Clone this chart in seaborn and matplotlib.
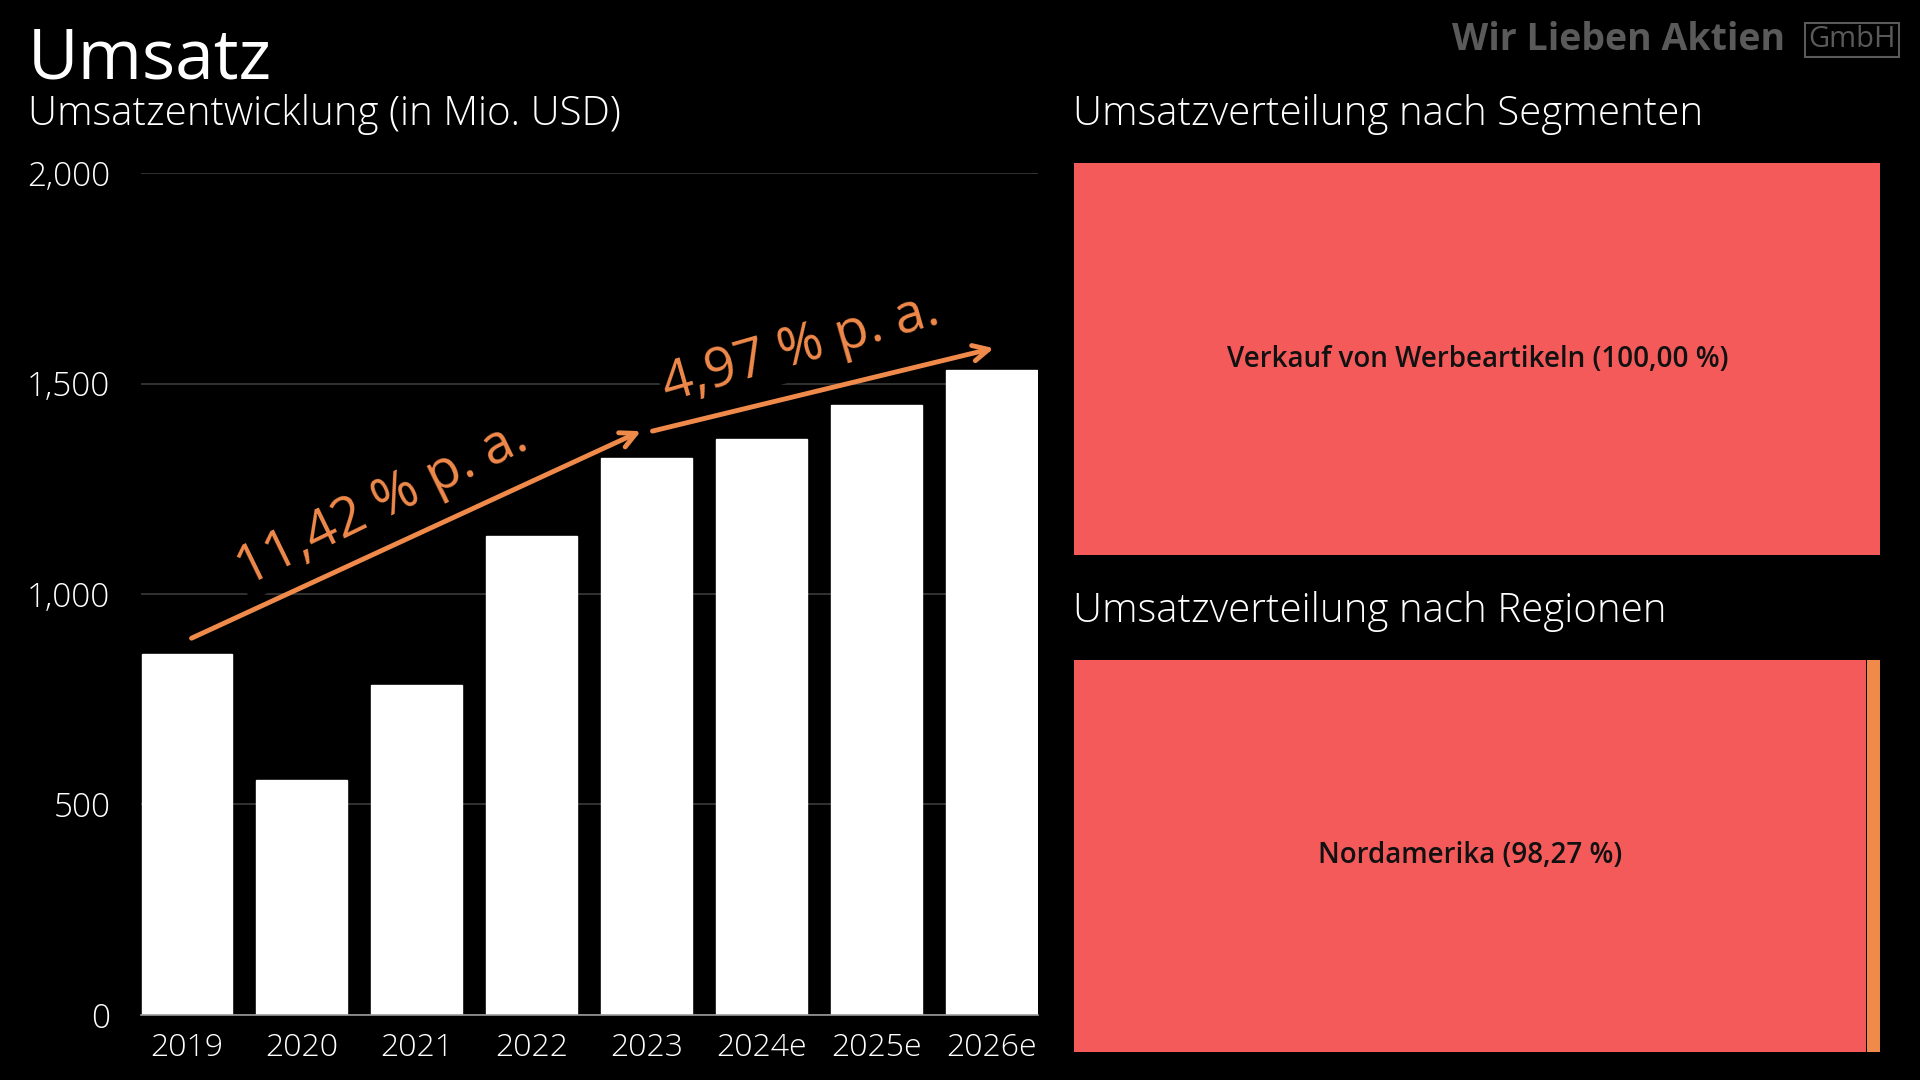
import matplotlib
matplotlib.use("Agg")
import matplotlib.pyplot as plt
import seaborn as sns
import pandas as pd

# data
years = ['2019', '2020', '2021', '2022', '2023', '2024e', '2025e', '2026e']
revenue = [857, 558, 785, 1137, 1323, 1369, 1448, 1532]
y_ticks = [0, 500, 1000, 1500, 2000]
y_tick_labels = ['0', '500', '1,000', '1,500', '2,000']

segments = ['Verkauf von Werbeartikeln']
segment_share = [100.00]
regions = ['Nordamerika', 'Sonstige']
region_share = [98.27, 1.73]

growth_labels = ['11,42 % p. a.', '4,97 % p. a.']

BG = 'black'
ORANGE = '#F08A4B'
RED = '#F45A5A'

sns.set_theme(style='dark')
plt.rcParams['font.family'] = ['Open Sans', 'DejaVu Sans']

fig = plt.figure(figsize=(19.2, 10.8), dpi=100, facecolor=BG)

# ---- revenue bars
ax = fig.add_axes([0.0734, 0.0602, 0.467, 0.7796])
ax.set_facecolor(BG)
df = pd.DataFrame({'year': years, 'revenue': revenue})
sns.barplot(data=df, x='year', y='revenue', color='white', saturation=1,
            width=0.79, ax=ax, zorder=3)
ax.set_ylim(0, 2000)
ax.set_xlim(-0.4, len(years) - 0.6)
ax.set_yticks(y_ticks)
ax.set_yticklabels(y_tick_labels, fontweight='light')
for lbl in ax.get_xticklabels():
    lbl.set_fontweight('light')
ax.yaxis.grid(True, color='#3a3a3a', lw=1.2, zorder=0)
ax.xaxis.grid(False)
ax.set_axisbelow(True)
for s in ['top', 'right', 'left']:
    ax.spines[s].set_visible(False)
ax.spines['bottom'].set_color('#9a9a9a')
ax.spines['bottom'].set_linewidth(1.2)
ax.spines['bottom'].set_zorder(4)
ax.tick_params(axis='y', colors='white', labelsize=24, length=0, pad=22)
ax.tick_params(axis='x', colors='white', labelsize=23, length=0, pad=12)
ax.set_xlabel('')
ax.set_ylabel('')

# growth arrows
ax.annotate('', xy=(3.95, 1387), xytext=(0.04, 895),
            arrowprops=dict(arrowstyle='->', color=ORANGE, lw=3.5,
                            mutation_scale=28, shrinkA=0, shrinkB=0), zorder=6)
ax.annotate('', xy=(7.02, 1584), xytext=(4.05, 1387),
            arrowprops=dict(arrowstyle='->', color=ORANGE, lw=3.5,
                            mutation_scale=28, shrinkA=0, shrinkB=0), zorder=6)
ax.text(1.70, 1215, growth_labels[0], color=ORANGE, fontsize=39,
        rotation=26, ha='center', va='center', rotation_mode='anchor', zorder=5,
        bbox=dict(facecolor=BG, edgecolor='none', pad=2))
ax.text(5.34, 1585, growth_labels[1], color=ORANGE, fontsize=39,
        rotation=16, ha='center', va='center', rotation_mode='anchor', zorder=5,
        bbox=dict(facecolor=BG, edgecolor='none', pad=2))


def share_panel(rect, names, shares, colors, label_count):
    a = fig.add_axes(rect)
    a.set_facecolor(BG)
    left = 0
    for i, (n, v) in enumerate(zip(names, shares)):
        a.barh(0, v - 0.12, left=left, height=1, color=colors[i], edgecolor='none')
        if i < label_count:
            a.text(left + v / 2, 0, f'{n} ({v:.2f} %)'.replace('.', ','),
                   ha='center', va='center', fontsize=20, fontweight='semibold',
                   color='#111111')
        left += v
    a.set_xlim(0, 100)
    a.set_ylim(-0.5, 0.5)
    a.axis('off')
    return a


share_panel([0.5594, 0.486, 0.4203, 0.363], segments, segment_share, [RED], 1)
share_panel([0.5594, 0.026, 0.4203, 0.363], regions, region_share, [RED, ORANGE], 1)

# titles
fig.text(0.0146, 0.944, 'Umsatz', color='white', fontsize=50, fontweight='normal',
         ha='left', va='center')
fig.text(0.0146, 0.894, 'Umsatzentwicklung (in Mio. USD)', color='white',
         fontsize=29, fontweight='light', ha='left', va='center')
fig.text(0.5589, 0.894, 'Umsatzverteilung nach Segmenten', color='white',
         fontsize=29, fontweight='light', ha='left', va='center')
fig.text(0.5589, 0.434, 'Umsatzverteilung nach Regionen', color='white',
         fontsize=29, fontweight='light', ha='left', va='center')

# logo
fig.text(0.930, 0.963, 'Wir Lieben Aktien', color='#5a5a5a', fontsize=27,
         fontweight='bold', ha='right', va='center')
fig.text(0.9645, 0.963, 'GmbH', color='#5a5a5a', fontsize=21, ha='center', va='center',
         bbox=dict(facecolor='none', edgecolor='#5a5a5a', lw=1.5, pad=2))

fig.savefig('out.png', dpi=100, facecolor=BG)
